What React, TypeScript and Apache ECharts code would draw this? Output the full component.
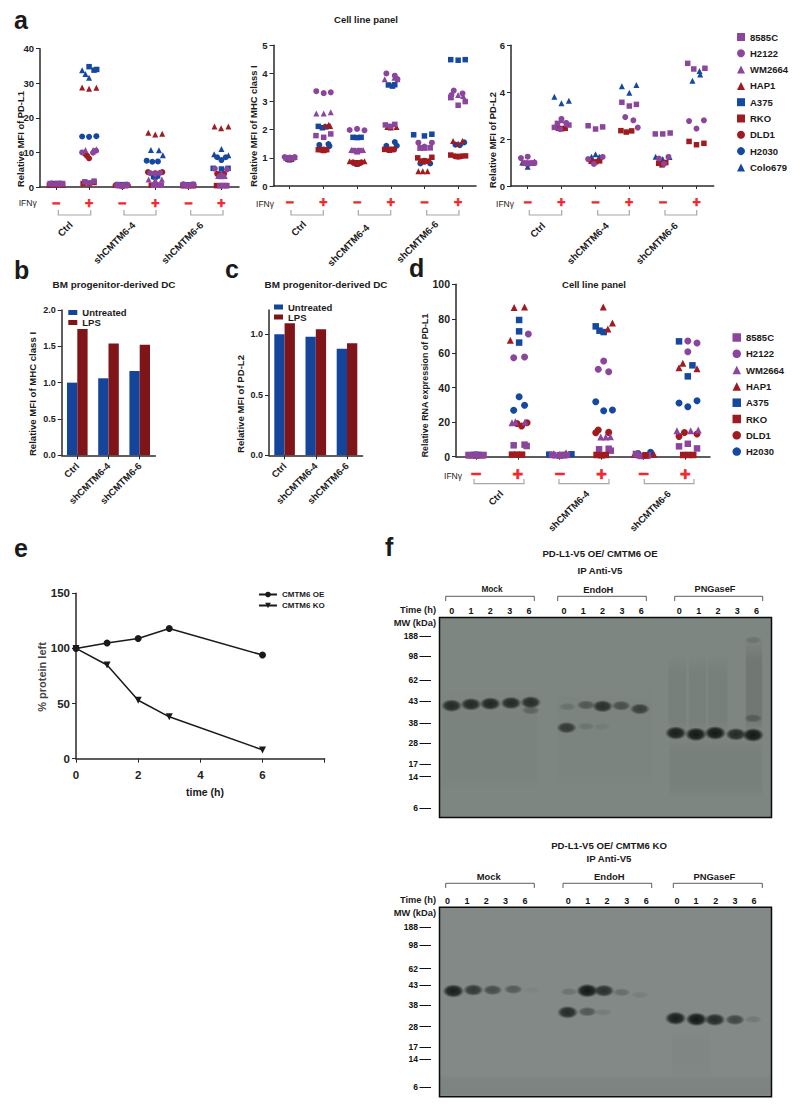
import React, { useEffect, useRef } from "react";
import * as echarts from "echarts";

const FONT = "Liberation Sans";
const PURPLE = "#8c459d";
const RED = "#a01b20";
const BLUE = "#15489f";

const signTicks = [0, 1, 2, 3, 4, 5];
const signLabels = ["−", "+", "−", "+", "−", "+"];
const barCategories = ["Ctrl", "shCMTM6-4", "shCMTM6-6"];
const cellLines = ["8585C", "H2122", "WM2664", "HAP1", "A375", "RKO", "DLD1", "H2030", "Colo679"];
const cellLinesRna = ["8585C", "H2122", "WM2664", "HAP1", "A375", "RKO", "DLD1", "H2030"];

// Panel a, PD-L1
const pdl1_8585C = [[-.18,1],[.02,1],[.2,1],[.87,1.5],[1.02,1.2],[1.15,1.7],[1.85,.6],[2,.5],[2.14,.6],[2.95,.5],[3.08,.5],[3.18,.5],[3.85,.7],[4,.5],[4.15,.7],[4.95,.4],[5.06,.4],[5.16,.4]];
const pdl1_H2122 = [[-.15,1],[0,1],[.15,1],[.79,10],[1.12,9.9],[1.21,10.5],[1.85,.5],[2,.2],[2.15,.5],[2.85,4],[3,3.8],[3.14,4.1],[3.85,.8],[4,.4],[4.15,.8],[4.8,5.3],[5,3.3],[5.17,5.1]];
const pdl1_WM2664 = [[-.1,1],[.05,1],[.18,1],[.89,10.7],[1.12,10.7],[1.22,10.9],[1.9,.6],[2,.4],[2.1,.6],[2.8,2.2],[3,2],[3.2,2.2],[3.85,.7],[4,.5],[4.15,.7],[4.9,3.2],[5,3.1],[5.1,3.2]];
const pdl1_HAP1 = [[-.1,.9],[0,.9],[.1,.9],[.79,28.8],[1,28.4],[1.22,28.7],[1.8,.7],[2,.6],[2.17,.7],[2.79,15.7],[3,15.2],[3.21,15.4],[3.85,.5],[4,.5],[4.15,.5],[4.79,17.5],[4.99,17],[5.21,17.5]];
const pdl1_A375 = [[-.15,.9],[0,.8],[.15,.9],[1,34.8],[1.15,33.8],[1.23,34],[1.9,.7],[2,.6],[2.1,.7],[2.95,3],[3,2.9],[3.07,3.2],[3.85,.6],[4,.6],[4.15,.6],[4.75,5.4],[5,5.2],[5.2,5.4]];
const pdl1_RKO = [[-.2,.5],[0,.5],[.2,.5],[.82,1],[1,1],[1.15,1.3],[1.9,.4],[2,.4],[2.1,.4],[2.88,.5],[3,.5],[3.16,.5],[3.85,.4],[4,.4],[4.15,.4],[4.85,.4],[5,.4],[5.15,.4]];
const pdl1_DLD1 = [[-.1,.8],[0,.8],[.1,.8],[.89,9.5],[.94,9],[1,8.3],[1.8,.5],[2,.5],[2.17,.5],[2.78,4.3],[3,4],[3.21,4.3],[3.85,.5],[4,.5],[4.15,.5],[4.87,3.8],[4.95,3.5],[5.08,3.8]];
const pdl1_H2030 = [[-.1,1],[0,.9],[.1,1],[.79,14.6],[1,14.5],[1.22,14.7],[1.9,.6],[2,.5],[2.1,.6],[2.74,7.6],[2.91,7.3],[3.08,7.4],[3.85,.6],[4,.5],[4.15,.6],[4.87,8.6],[5,7.8],[5.13,8.6]];
const pdl1_Colo679 = [[-.16,1],[0,.9],[.12,.9],[.79,33.8],[.89,32.7],[1,31.6],[1.84,.8],[2,.5],[2.12,.8],[2.87,10.7],[3.11,10.6],[3.23,9.2],[3.84,.8],[4,.6],[4.1,.8],[4.78,9.5],[5,11],[5.21,9.2]];

// Panel a, MHC class I
const mhc_8585C = [[-.1,1],[0,1],[.1,1],[.78,1.79],[1.01,1.73],[1.22,1.85],[1.9,1.26],[2,1.23],[2.08,1.26],[2.84,2.17],[3,2.12],[3.12,2.19],[3.87,1.36],[4,1.36],[4.17,1.36],[4.78,3.14],[5,2.87],[5.21,3]];
const mhc_H2122 = [[-.15,1.03],[0,1],[.15,1.03],[.79,3.37],[1.01,3.3],[1.22,3.33],[1.78,1.99],[2,2.03],[2.22,1.98],[2.87,4],[3.12,3.92],[3.2,3.8],[3.82,1.54],[4,1.4],[4.22,1.54],[4.8,3.23],[4.87,3.39],[5.13,3.29]];
const mhc_WM2664 = [[-.1,1],[0,.98],[.15,1.03],[.79,2.58],[1.01,2.58],[1.22,2.62],[1.83,1.28],[2,1.23],[2.18,1.28],[2.82,3.79],[3.11,3.85],[3.2,3.79],[3.87,1.36],[4,1.36],[4.17,1.38],[4.8,3.17],[5,3.23],[5.15,3.2]];
const mhc_HAP1 = [[-.05,.98],[0,.97],[.05,.98],[1.05,2.13],[1.16,2.18],[1.2,2.13],[1.78,.88],[2,.8],[2.22,.88],[2.9,2.1],[3,2.08],[3.17,2.1],[3.82,.52],[3.95,.52],[4.09,.52],[4.85,1.6],[5,1.5],[5.13,1.6]];
const mhc_A375 = [[-.05,.95],[0,.93],[.05,.95],[.85,2.12],[.97,2.07],[1.08,2.1],[1.88,1.73],[2,1.72],[2.12,1.73],[2.93,3.59],[3.05,3.55],[3.12,3.6],[3.68,1.82],[4,1.78],[4.22,1.84],[4.78,4.49],[5,4.47],[5.21,4.49]];
const mhc_RKO = [[-.03,.98],[0,.98],[.03,.98],[.85,1.29],[1,1.26],[1.1,1.29],[1.94,.82],[2,.8],[2.06,.82],[2.82,1.3],[2.97,1.27],[3.08,1.3],[3.8,1],[4,.89],[4.22,1.02],[4.78,1.1],[5,1.04],[5.22,1.07]];
const mhc_DLD1 = [[-.02,1],[0,1],[.02,1],[.9,1.3],[1,1.3],[1.06,1.28],[1.88,.84],[2,.82],[2.13,.84],[2.9,1.3],[3,1.3],[3.1,1.3],[3.9,.88],[4,.86],[4.12,.88],[4.9,1.06],[5,1.05],[5.1,1.06]];
const mhc_H2030 = [[-.05,.97],[0,.95],[.05,.97],[.88,1.46],[1.15,1.49],[1.18,1.42],[1.95,.8],[2,.78],[2.05,.8],[2.87,1.43],[3.12,1.56],[3.18,1.43],[3.88,.8],[4,.9],[4.17,.8],[4.92,1.47],[5.05,1.45],[5.18,1.55]];

// Panel a, PD-L2
const pdl2_8585C = [[-.1,.97],[.05,.97],[.18,.97],[.79,2.5],[.88,2.67],[1.22,2.6],[1.79,2.57],[2.01,2.43],[2.22,2.52],[2.79,3.57],[3.01,3.41],[3.22,3.48],[3.78,2.22],[4,2.22],[4.22,2.26],[4.74,5.23],[4.92,4.99],[5.25,5.02]];
const pdl2_H2122 = [[-.2,1.19],[0,1.25],[.2,1],[.96,2.42],[1,2.86],[1.14,2.69],[1.79,1.15],[1.96,.94],[2.22,1.24],[2.89,2.94],[3.13,2.8],[3.26,2.49],[3.89,1.17],[4.04,.94],[4.17,1.24],[4.78,2.77],[5,2.45],[5.22,2.8]];
const pdl2_WM2664 = [[-.1,1],[0,1],[.1,1],[.86,2.67],[1,2.8],[1.16,2.66]];
const pdl2_RKO = [[-.1,.97],[0,.95],[.1,.97],[.91,2.46],[1,2.44],[1.11,2.46],[1.88,1.05],[2.01,1.03],[2.13,1.07],[2.76,2.36],[2.92,2.3],[3.08,2.35],[3.88,.97],[3.98,.9],[4.09,1],[4.78,1.9],[5,1.76],[5.22,1.82]];
const pdl2_Colo679 = [[-.16,1],[0,.82],[.2,1.04],[.79,3.81],[1,3.53],[1.22,3.64],[1.89,1.25],[2.01,1.35],[2.12,1.25],[2.79,4.25],[3.01,3.98],[3.22,4.31],[3.79,1.25],[4,1.15],[4.2,1.24],[4.88,4.49],[5.09,4.9],[5.11,4.76]];

// Panel d, PD-L1 RNA
const rna_8585C = [[-.18,1],[0,1],[.18,1],[.9,6.6],[1.16,7],[1.21,6.2],[1.82,1],[2,.9],[2.17,1],[2.94,4.3],[3.17,4.6],[3.22,3.5],[3.82,1.6],[3.94,.4],[4.1,.8],[4.85,6],[5.06,7.5],[5.28,4.8]];
const rna_H2122 = [[0,1],[.9,57.4],[1.16,57.8],[1.25,71.2],[2.92,50.7],[3.05,55.5],[3.17,49.3],[5.06,67.1],[5.06,60.9],[5.28,66]];
const rna_WM2664 = [[-.1,1],[.1,1],[.86,19.7],[.94,20.3],[1.17,20.1],[1.9,1],[2,.8],[2.1,1],[2.98,11.4],[3.1,11.4],[3.21,11.6],[3.9,1],[4,.9],[4.1,1],[4.8,15],[5.13,15],[5.31,15.5]];
const rna_HAP1 = [[-.17,1],[0,.9],[.16,1],[.82,67.5],[.91,86.5],[1.16,86.8],[1.86,1.7],[2,1.2],[2.15,2.1],[3.04,86.8],[3.15,74],[3.26,77.6],[3.78,1.4],[4,1],[4.25,1.4],[4.85,51.6],[4.94,54.2],[5.28,51]];
const rna_A375 = [[-.05,1],[0,1],[.05,1],[1.03,79.3],[1.03,72.7],[1.03,66.2],[1.75,1.2],[2.06,1],[2.28,1.4],[2.86,75.6],[2.95,73.1],[3.05,72.3],[4.85,66.9],[5.06,46.6],[5.17,53]];
const rna_RKO = [[.86,1.2],[.98,1.2],[1.1,1.2],[2.88,1],[3,.8],[3.1,1],[4.05,.8],[4.95,1],[5.07,1],[5.19,1]];
const rna_DLD1 = [[.98,19.3],[1.09,17.8],[1.22,19.7],[2.86,13.9],[2.92,15.5],[3.17,14.1],[4.85,11.8],[4.98,14],[5.28,13.2]];
const rna_H2030 = [[.9,26.9],[1.03,34.8],[1.16,29.8],[2.86,31.9],[3.05,26.7],[3.26,27.1],[3.87,1.9],[4.17,2.5],[4.85,31.1],[5.06,29],[5.28,32.5]];

// Panels b, c
const mhcUntreated = [1, 1.06, 1.16];
const mhcLps = [1.74, 1.54, 1.52];
const pdl2Untreated = [1, 0.98, 0.88];
const pdl2Lps = [1.09, 1.04, 0.925];

// Panel e
const oeSeries = [[0,100],[1,105],[2,109],[3,118],[6,94]];
const koSeries = [[0,100],[1,85],[2,53],[3,38],[6,8]];

// Panel f: marker ladder and lane labels
const mwLabels = ["188", "98", "62", "43", "38", "28", "17", "14", "6"];
const timeLabels = ["0", "1", "2", "3", "6"];
const blot1MwPos = [18.8, 38.8, 62.8, 83.5, 105.5, 125.8, 146.8, 159.2, 190.8];
const blot2MwPos = [20, 37.7, 61.4, 78, 97.7, 119.4, 140, 152, 180];
const blot1Lanes = [.63,1.63,2.63,3.63,4.63,6.44,7.44,8.44,9.44,10.44,12.41,13.41,14.41,15.41,16.41];
const blot2Lanes = [.42,1.42,2.42,3.42,4.42,6.66,7.67,8.67,9.69,10.7,12.29,13.27,14.29,15.29,16.28];
// bands: lane, migration, intensity
const blot1Bands = [
  [.63,88.2,.85],[1.63,86.8,.85],[2.63,86.2,.88],[3.7,85.5,.85],[4.72,84.8,.82],[4.72,92.8,.3],
  [6.61,89.2,.18],[6.58,110.2,.7],[7.58,87.5,.42],[7.58,108.8,.15],[8.44,88.8,.8],[8.4,109.2,.08],[9.4,88.2,.5],[10.37,91.5,.65],
  [12.23,115.5,.95],[13.27,116.8,1],[14.27,115.5,1],[15.34,116.8,.85],[16.23,117.5,1],[16.23,100.8,.3],[16.23,22.5,.16],
];
const blot2Bands = [
  [.72,83.7,.95],[1.75,82.7,.72],[2.75,82.7,.55],[3.82,82,.42],[4.77,82.7,.05],
  [6.7,84.4,.2],[6.63,105,.85],[7.65,83.4,1],[7.65,104.4,.45],[8.51,83.4,.8],[8.47,105,.12],[9.42,85,.25],[10.37,87.7,.1],
  [12.22,111,.95],[13.3,112,1],[14.25,112.4,.85],[15.29,112.4,.6],[16.23,112,.15],
];
// smears: lane from, lane to, top, bottom, opacity
const blot1Smears = [
  [.1,5.1,70,175,.025],[6.1,11,65,170,.02],[11.85,12.75,37,115,.06],[12.9,13.8,37,115,.06],[13.9,14.9,37,115,.06],
  [15.85,16.7,20,115,.13],[11.9,16.7,118,180,.05],
];
const blot2Smears = [[0,17.18,167,189.4,.05],[12,14,120,170,.02]];

const scatter = (name: string, symbol: string, color: string, data: number[][], grid: number, size: number) => ({
  type: "scatter", name, symbol, symbolSize: size, xAxisIndex: grid, yAxisIndex: grid, data, itemStyle: { color, opacity: 1 },
});

const cellStyle: Record<string, [string, string]> = {
  "8585C": ["rect", PURPLE], H2122: ["circle", PURPLE], WM2664: ["triangle", PURPLE], HAP1: ["triangle", RED],
  A375: ["rect", BLUE], RKO: ["rect", RED], DLD1: ["circle", RED], H2030: ["circle", BLUE], Colo679: ["triangle", BLUE],
};
const panel = (grid: number, size: number, entries: [string, number[][]][]) =>
  entries.map(([n, d]) => scatter(n, cellStyle[n][0], cellStyle[n][1], d, grid, n === "8585C" || n === "A375" || n === "RKO" ? size - 0.5 : size));

const grids = [
  { left: 40, top: 48.7, width: 199, height: 138.3 },
  { left: 273.5, top: 45.3, width: 202.5, height: 140.7 },
  { left: 511, top: 45.3, width: 202.7, height: 140.7 },
  { left: 456, top: 284.3, width: 254, height: 172.4 },
  { left: 61.7, top: 310, width: 93.6, height: 145.3 },
  { left: 269, top: 310, width: 93.6, height: 145.3 },
  { left: 76, top: 593.3, width: 248.7, height: 165.4 },
  { left: 439.5, top: 617.5, width: 332, height: 200, show: true, backgroundColor: "#7e8681", borderColor: "#0c0c0c", borderWidth: 1.5 },
  { left: 439.5, top: 907.3, width: 332, height: 189.4, show: true, backgroundColor: "#828986", borderColor: "#0c0c0c", borderWidth: 1.5 },
];

const AXIS = "#2a2a2a";
const axisCommon = { axisLine: { show: true, onZero: false, lineStyle: { color: AXIS, width: 1.5 } }, splitLine: { show: false } };
const signX = (grid: number, min: number, max: number, fs: number, margin: number) => ({
  ...axisCommon, type: "value", gridIndex: grid, min, max,
  axisTick: { show: true, length: 3, lineStyle: { color: AXIS, width: 1 }, customValues: signTicks },
  axisLabel: { customValues: signTicks, margin, fontFamily: FONT, fontWeight: "bold", fontSize: fs, color: "#f2282e",
    textBorderColor: "#f2282e", textBorderWidth: 0.7, formatter: (v: number) => signLabels[Math.round(v)] },
});
const yValue = (grid: number, min: number, max: number, interval: number, fs: number, dec = 0) => ({
  ...axisCommon, type: "value", gridIndex: grid, min, max, interval,
  axisTick: { show: true, length: 4, lineStyle: { color: AXIS, width: 1 } },
  axisLabel: { margin: 6, fontFamily: FONT, fontWeight: "bold", fontSize: fs, color: "#222", formatter: (v: number) => v.toFixed(dec) },
});
const catX = (grid: number) => ({
  ...axisCommon, type: "category", gridIndex: grid, data: barCategories,
  axisTick: { show: true, alignWithLabel: true, length: 4, lineStyle: { color: AXIS, width: 1 } },
  axisLabel: { rotate: 45, margin: 9, interval: 0, fontFamily: FONT, fontWeight: "bold", fontSize: 9.6, color: "#222" },
});
const nearest = (arr: number[], v: number) => arr.reduce((b, x, i) => (Math.abs(x - v) < Math.abs(arr[b] - v) ? i : b), 0);
const gelX = (grid: number, lanes: number[]) => ({
  type: "value", gridIndex: grid, position: "top", min: 0, max: 17.18, splitLine: { show: false },
  axisLine: { show: false, onZero: false }, axisTick: { show: false },
  axisLabel: { customValues: lanes, margin: 2, fontFamily: FONT, fontWeight: "bold", fontSize: 9, color: "#111",
    formatter: (v: number) => timeLabels[nearest(lanes, v) % 5] },
});
const gelY = (grid: number, max: number, pos: number[]) => ({
  type: "value", gridIndex: grid, inverse: true, min: 0, max, offset: 8.5, splitLine: { show: false },
  axisLine: { show: false, onZero: false },
  axisTick: { show: true, length: 11.5, customValues: pos, lineStyle: { color: "#111", width: 1 } },
  axisLabel: { customValues: pos, margin: 13, fontFamily: FONT, fontWeight: "bold", fontSize: 8.5, color: "#111",
    formatter: (v: number) => mwLabels[nearest(pos, v)] },
});

const bandItem = (_p: any, api: any) => {
  const c = api.coord([api.value(0), api.value(1)]);
  const i = api.value(2);
  const rx = 8.5 + 2.5 * i;
  const ry = 3.2 + 3.8 * i;
  return {
    type: "ellipse",
    shape: { cx: c[0], cy: c[1], rx, ry },
    style: { fill: new echarts.graphic.RadialGradient(0.5, 0.5, 0.5, [
      { offset: 0, color: `rgba(18,24,21,${i})` },
      { offset: 0.6, color: `rgba(18,24,21,${i * 0.85})` },
      { offset: 1, color: "rgba(18,24,21,0)" },
    ]) },
  };
};
const smearItem = (_p: any, api: any) => {
  const a = api.coord([api.value(0), api.value(2)]);
  const b = api.coord([api.value(1), api.value(3)]);
  const o = api.value(4);
  return {
    type: "rect",
    shape: { x: a[0], y: a[1], width: b[0] - a[0], height: b[1] - a[1] },
    style: { fill: new echarts.graphic.LinearGradient(0, 0, 0, 1, [
      { offset: 0, color: "rgba(20,25,22,0)" },
      { offset: 0.25, color: `rgba(20,25,22,${o})` },
      { offset: 0.85, color: `rgba(20,25,22,${o})` },
      { offset: 1, color: "rgba(20,25,22,0)" },
    ]) },
  };
};
const custom = (grid: number, renderItem: any, data: number[][]) => ({
  type: "custom", xAxisIndex: grid, yAxisIndex: grid, renderItem, data, encode: { x: 0, y: 1 }, clip: true, silent: true,
});

const T = (x: number, y: number, text: string, o: any = {}) => ({
  type: "text", x, y, rotation: o.rotation ?? 0, silent: true,
  style: { text, fontFamily: FONT, fontSize: o.size ?? 9.5, fontWeight: o.weight ?? "bold", fill: o.fill ?? "#1a1a1a",
    align: o.align ?? "center", verticalAlign: "middle" },
});
const rot = (x: number, y: number, text: string, size = 9.7) => T(x, y, text, { rotation: Math.PI / 4, align: "right", size });
const vert = (x: number, y: number, text: string, size = 9.4, o: any = {}) => T(x, y, text, { rotation: Math.PI / 2, size, ...o });
const bracket = (x1: number, x2: number, y1: number, y2: number, color = "#a8a8a8", w = 1.2) => ({
  type: "polyline", silent: true, shape: { points: [[x1, y1], [x1, y2], [x2, y2], [x2, y1]] },
  style: { stroke: color, lineWidth: w, fill: "none" },
});

const graphics = [
  T(14, 20, "a", { size: 25, align: "left" }), T(14, 270, "b", { size: 25, align: "left" }), T(225, 269, "c", { size: 25, align: "left" }),
  T(409, 268, "d", { size: 25, align: "left" }), T(14, 548, "e", { size: 25, align: "left" }), T(385, 547, "f", { size: 25, align: "left" }),
  T(366, 19, "Cell line panel"), T(594, 284.3, "Cell line panel"),
  T(114, 284, "BM progenitor-derived DC", { size: 9.9 }), T(326, 284, "BM progenitor-derived DC", { size: 9.9 }),
  vert(20, 139, "Relative MFI of PD-L1"), vert(253, 126, "Relative MFI of MHC class I"), vert(492.7, 140, "Relative MFI of PD-L2"),
  vert(32, 394, "Relative MFI of MHC class I", 9.6), vert(240.7, 404, "Relative MFI of PD-L2", 9.6), vert(425, 385.5, "Relative RNA expression of PD-L1", 8.9),
  vert(42, 677, "% protein left", 11, { fill: "#444" }), T(205, 792, "time (h)", { size: 10.5 }),
  T(27.7, 203, "IFNγ", { weight: "normal", size: 8.5 }), T(265, 204, "IFNγ", { weight: "normal", size: 8.5 }),
  T(505, 204, "IFNγ", { weight: "normal", size: 8.5 }), T(453, 475.7, "IFNγ", { weight: "normal", size: 8.5 }),
  bracket(58.3, 90.7, 210, 215), bracket(124, 156, 210, 215), bracket(190.7, 223, 210, 215),
  bracket(291, 323.3, 210, 215), bracket(358.3, 390.7, 210, 215), bracket(426.7, 459, 210, 215),
  bracket(529.3, 561.7, 210, 215), bracket(597.7, 629.3, 210, 215), bracket(665, 696.7, 210, 215),
  bracket(474, 524, 479, 483.7), bracket(559, 609, 479, 483.7), bracket(644.3, 694, 479, 483.7),
  rot(71, 223, "Ctrl"), rot(133.5, 223.5, "shCMTM6-4"), rot(201.5, 223.5, "shCMTM6-6"),
  rot(304.5, 222.5, "Ctrl"), rot(367.5, 226, "shCMTM6-4"), rot(436.5, 222.5, "shCMTM6-6"),
  rot(543.5, 224, "Ctrl"), rot(607, 224, "shCMTM6-4"), rot(676, 224, "shCMTM6-6"),
  rot(501.5, 492, "Ctrl", 9.5), rot(587.5, 492, "shCMTM6-4", 9.5), rot(669, 492, "shCMTM6-6", 9.5),
  T(600, 553.7, "PD-L1-V5 OE/ CMTM6 OE", { size: 9.6 }), T(600, 570.7, "IP Anti-V5", { size: 9.6 }),
  T(492, 589, "Mock", { size: 8.3 }), T(598.3, 589, "EndoH", { size: 9.4 }), T(715, 589, "PNGaseF", { size: 9.2 }),
  bracket(445.7, 534.3, 601, 596.3, "#333", 0.8), bracket(557.7, 646.3, 601, 596.3, "#333", 0.8), bracket(674.7, 762.7, 601, 596.3, "#333", 0.8),
  T(436, 610, "Time (h)", { size: 9.3, align: "right" }), T(436, 623, "MW (kDa)", { size: 9.3, align: "right" }),
  T(609, 845, "PD-L1-V5 OE/ CMTM6 KO", { size: 9.6 }), T(609, 858, "IP Anti-V5", { size: 9.6 }),
  T(488.7, 876.7, "Mock", { size: 9.4 }), T(609.3, 876.7, "EndoH", { size: 9.5 }), T(714.3, 876.7, "PNGaseF", { size: 9.4 }),
  bracket(445.7, 534.3, 888, 883.3, "#333", 0.8), bracket(563, 651.7, 888, 883.3, "#333", 0.8), bracket(673.3, 762.3, 888, 883.3, "#333", 0.8),
  T(436, 900, "Time (h)", { size: 9.3, align: "right" }), T(436, 913.3, "MW (kDa)", { size: 9.3, align: "right" }),
];

const series: any[] = [
  ...panel(0, 6, [["Colo679", pdl1_Colo679], ["H2030", pdl1_H2030], ["DLD1", pdl1_DLD1], ["RKO", pdl1_RKO], ["A375", pdl1_A375], ["HAP1", pdl1_HAP1], ["WM2664", pdl1_WM2664], ["H2122", pdl1_H2122], ["8585C", pdl1_8585C]]),
  ...panel(1, 6, [["H2030", mhc_H2030], ["DLD1", mhc_DLD1], ["RKO", mhc_RKO], ["A375", mhc_A375], ["HAP1", mhc_HAP1], ["WM2664", mhc_WM2664], ["H2122", mhc_H2122], ["8585C", mhc_8585C]]),
  ...panel(2, 6, [["Colo679", pdl2_Colo679], ["RKO", pdl2_RKO], ["WM2664", pdl2_WM2664], ["8585C", pdl2_8585C], ["H2122", pdl2_H2122]]),
  ...panel(3, 7, [["H2030", rna_H2030], ["DLD1", rna_DLD1], ["A375", rna_A375], ["HAP1", rna_HAP1], ["WM2664", rna_WM2664], ["H2122", rna_H2122], ["8585C", rna_8585C], ["RKO", rna_RKO]]),
  { type: "bar", name: "Untreated", xAxisIndex: 4, yAxisIndex: 4, data: mhcUntreated, barWidth: 10.3, barGap: "0%", itemStyle: { color: "#15459b" } },
  { type: "bar", name: "LPS", xAxisIndex: 4, yAxisIndex: 4, data: mhcLps, barWidth: 10.3, barGap: "0%", itemStyle: { color: "#7f1518" } },
  { type: "bar", name: "Untreated", xAxisIndex: 5, yAxisIndex: 5, data: pdl2Untreated, barWidth: 10.3, barGap: "0%", itemStyle: { color: "#15459b" } },
  { type: "bar", name: "LPS", xAxisIndex: 5, yAxisIndex: 5, data: pdl2Lps, barWidth: 10.3, barGap: "0%", itemStyle: { color: "#7f1518" } },
  { type: "line", name: "CMTM6 OE", xAxisIndex: 6, yAxisIndex: 6, data: oeSeries, symbol: "circle", symbolSize: 7, lineStyle: { color: "#1a1a1a", width: 1.5 }, itemStyle: { color: "#1a1a1a" } },
  { type: "line", name: "CMTM6 KO", xAxisIndex: 6, yAxisIndex: 6, data: koSeries, symbol: "triangle", symbolRotate: 180, symbolSize: 7, lineStyle: { color: "#1a1a1a", width: 1.5 }, itemStyle: { color: "#1a1a1a" } },
  custom(7, smearItem, blot1Smears), custom(7, bandItem, blot1Bands),
  custom(8, smearItem, blot2Smears), custom(8, bandItem, blot2Bands),
];

const legendText = (fontSize: number) => ({ fontFamily: FONT, fontWeight: "bold", fontSize, color: "#1a1a1a" });
const option: any = {
  animation: false,
  grid: grids,
  graphic: { elements: graphics },
  legend: [
    { selectedMode: false, orient: "vertical", left: 737, top: 32, itemWidth: 8, itemHeight: 8, itemGap: 6.3, data: cellLines, textStyle: legendText(9.5), padding: 0 },
    { selectedMode: false, orient: "vertical", left: 732.5, top: 332.5, itemWidth: 8.5, itemHeight: 8.5, itemGap: 6.3, data: cellLinesRna, textStyle: legendText(9.5), padding: 0 },
    { selectedMode: false, orient: "vertical", left: 68.3, top: 307.5, itemWidth: 9, itemHeight: 5, itemGap: 0, icon: "rect", data: ["Untreated", "LPS"], textStyle: legendText(9.5), padding: 0 },
    { selectedMode: false, orient: "vertical", left: 274, top: 302, itemWidth: 9, itemHeight: 5, itemGap: 0, icon: "rect", data: ["Untreated", "LPS"], textStyle: legendText(9.5), padding: 0 },
    { selectedMode: false, orient: "vertical", left: 258, top: 590.5, itemWidth: 18, itemHeight: 7, itemGap: 3, data: ["CMTM6 OE", "CMTM6 KO"], textStyle: legendText(8), padding: 0 },
  ],
  xAxis: [
    signX(0, -0.483, 5.53, 14, 9), signX(1, -0.48, 5.53, 14, 9), signX(2, -0.495, 5.51, 14, 9), signX(3, -0.478, 5.59, 18, 8),
    catX(4), catX(5),
    { ...axisCommon, type: "value", gridIndex: 6, min: 0, max: 8, interval: 2,
      axisTick: { show: true, length: 4, lineStyle: { color: AXIS, width: 1 } },
      axisLabel: { customValues: [0, 2, 4, 6], margin: 10, fontFamily: FONT, fontWeight: "bold", fontSize: 11.5, color: "#222" } },
    gelX(7, blot1Lanes), gelX(8, blot2Lanes),
  ],
  yAxis: [
    yValue(0, 0, 40, 10, 9.5), yValue(1, 0, 5, 1, 9.5), yValue(2, 0, 6, 2, 9.5), yValue(3, 0, 100, 20, 10.5),
    yValue(4, 0, 2, 0.5, 9, 1),
    { ...yValue(5, 0, 1.2, 0.5, 9, 1),
      axisTick: { show: true, length: 4, customValues: [0, 0.5, 1], lineStyle: { color: AXIS, width: 1 } },
      axisLabel: { customValues: [0, 0.5, 1], margin: 6, fontFamily: FONT, fontWeight: "bold", fontSize: 9, color: "#222", formatter: (v: number) => v.toFixed(1) } },
    yValue(6, 0, 150, 50, 11.5),
    gelY(7, 200, blot1MwPos), gelY(8, 189.4, blot2MwPos),
  ],
  series,
};

export default function App() {
  const ref = useRef<HTMLDivElement>(null);
  useEffect(() => {
    document.body.style.margin = "0";
    const chart = echarts.init(ref.current!, null, { renderer: "svg" });
    chart.setOption(option);
    return () => chart.dispose();
  }, []);
  return <div ref={ref} style={{ width: 800, height: 1111, background: "#fff" }} />;
}
